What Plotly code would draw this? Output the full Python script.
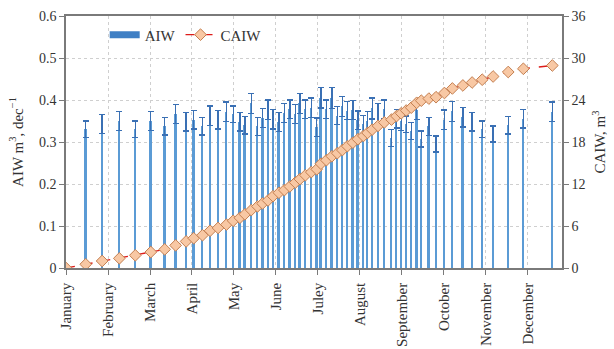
import plotly.graph_objects as go

# Month tick labels (x axis runs in month units, 0 = start of January)
months = ["January", "February", "March", "April", "May", "June",
          "Juley", "August", "September", "October", "November", "December"]
month_pos = list(range(12))

# Irrigation events: position in months from 1 January
event_month = [0.47, 0.86, 1.27, 1.65, 2.02, 2.35, 2.61, 2.86, 3.04, 3.25,
               3.43, 3.62, 3.82, 3.98, 4.14, 4.26, 4.41, 4.56, 4.68, 4.81,
               4.93, 5.07, 5.20, 5.33, 5.46, 5.57, 5.70, 5.84, 5.97, 6.07,
               6.20, 6.33, 6.46, 6.58, 6.70, 6.83, 6.95, 7.08, 7.18, 7.29,
               7.43, 7.58, 7.75, 7.87, 7.98, 8.10, 8.22, 8.35, 8.46, 8.64,
               8.81, 9.01, 9.20, 9.45, 9.67, 9.91, 10.17, 10.53, 10.89, 11.58]

# Applied irrigation water per event (m3 per decade), mean and standard deviation
aiw_mean = [0.330, 0.343, 0.350, 0.330, 0.350, 0.338, 0.367, 0.348, 0.353, 0.338,
            0.363, 0.353, 0.372, 0.366, 0.348, 0.340, 0.392, 0.337, 0.357, 0.377,
            0.354, 0.348, 0.369, 0.378, 0.367, 0.392, 0.378, 0.382, 0.335, 0.405,
            0.378, 0.404, 0.363, 0.385, 0.375, 0.376, 0.352, 0.342, 0.350, 0.380,
            0.369, 0.378, 0.310, 0.355, 0.350, 0.342, 0.326, 0.377, 0.307, 0.337,
            0.295, 0.353, 0.373, 0.359, 0.348, 0.330, 0.319, 0.340, 0.355, 0.372]
aiw_sd = [0.020, 0.022, 0.022, 0.020, 0.022, 0.021, 0.023, 0.022, 0.022, 0.021,
          0.023, 0.022, 0.023, 0.020, 0.022, 0.021, 0.024, 0.021, 0.022, 0.023,
          0.023, 0.023, 0.023, 0.022, 0.023, 0.024, 0.022, 0.023, 0.022, 0.024,
          0.022, 0.025, 0.022, 0.024, 0.022, 0.023, 0.022, 0.021, 0.022, 0.025,
          0.022, 0.022, 0.020, 0.022, 0.022, 0.020, 0.020, 0.023, 0.019, 0.021,
          0.019, 0.023, 0.024, 0.023, 0.022, 0.020, 0.019, 0.021, 0.022, 0.023]

# Cumulative applied irrigation water (m3), starting from zero on 1 January
caiw_month = [0.0] + event_month
caiw = [0.00, 0.53, 1.00, 1.38, 1.81, 2.28, 2.66, 3.23, 3.80, 4.25, 4.68,
        5.32, 5.72, 6.20, 6.74, 7.17, 7.67, 8.27, 8.80, 9.22, 9.65,
        10.26, 10.75, 11.13, 11.65, 12.20, 12.70, 13.25, 13.70, 14.10, 14.90,
        15.40, 15.96, 16.40, 16.85, 17.40, 17.90, 18.40, 18.86, 19.30, 19.77,
        20.30, 20.80, 21.20, 21.70, 22.10, 22.50, 22.90, 23.60, 23.90, 24.20,
        24.40, 25.00, 25.65, 26.08, 26.50, 26.90, 27.36, 28.00, 28.46, 28.93]

FONT = "Liberation Serif"
TXT = "#333333"
BLUE = "#5b9bd5"
BLUE_DARK = "#3a70b4"
GRID = "#cfcfcf"
AXIS = "#7a7a7a"

fig = go.Figure()

fig.add_trace(go.Bar(
    x=event_month, y=aiw_mean, width=0.045,
    marker=dict(color=BLUE, line=dict(width=0)),
    error_y=dict(type="data", array=aiw_sd, visible=True,
                 color=BLUE_DARK, thickness=1.3, width=3),
    name="AIW", showlegend=False,
))

# legend swatch for the bar series (wide blue patch)
fig.add_trace(go.Scatter(
    x=[None], y=[None], mode="lines",
    line=dict(color="#3f7fc4", width=7), name="AIW",
))

fig.add_trace(go.Scatter(
    x=caiw_month, y=caiw, yaxis="y2", mode="lines+markers",
    line=dict(color="#dd1c1a", width=1.4, dash="dash"),
    marker=dict(symbol="diamond", size=9, color="#f8c8a4",
                line=dict(color="#c47f50", width=1)),
    name="CAIW",
))

axis_line = dict(showline=True, linecolor=AXIS, linewidth=1.5)
tick_font = dict(family=FONT, size=14, color=TXT)

fig.update_layout(
    width=614, height=349,
    margin=dict(l=66, r=52, t=16, b=81, autoexpand=False),
    paper_bgcolor="white", plot_bgcolor="white",
    font=dict(family=FONT, size=14, color=TXT),
    bargap=0,
    legend=dict(orientation="h", x=0.078, y=0.925, xanchor="left", yanchor="middle",
                bgcolor="rgba(0,0,0,0)", font=dict(family=FONT, size=15, color=TXT),
                itemwidth=30, tracegroupgap=0),
    xaxis=dict(range=[0, 11.81], tickmode="array", tickvals=month_pos, ticktext=months,
               tickangle=-90, ticks="outside", ticklen=5, tickcolor=AXIS,
               ticklabelstandoff=2, tickfont=dict(family=FONT, size=15, color=TXT),
               showgrid=True, gridcolor=GRID, griddash="3px,3px", gridwidth=1,
               mirror=True, zeroline=False, automargin=False, **axis_line),
    yaxis=dict(range=[0, 0.6], tickmode="array",
               tickvals=[0, 0.1, 0.2, 0.3, 0.4, 0.5, 0.6],
               ticktext=["0", "0.1", "0.2", "0.3", "0.4", "0.5", "0.6"],
               ticks="outside", ticklen=5, tickcolor=AXIS, tickfont=tick_font,
               showgrid=True, gridcolor=GRID, griddash="3px,3px", gridwidth=1,
               mirror=True, zeroline=False, automargin=False,
               title=dict(text="AIW m<sup>3</sup>, dec<sup>−1</sup>", standoff=12,
                          font=dict(family=FONT, size=15, color=TXT)),
               **axis_line),
    yaxis2=dict(range=[0, 36], tickmode="array", tickvals=[0, 6, 12, 18, 24, 30, 36],
                overlaying="y", side="right",
                ticks="outside", ticklen=5, tickcolor=AXIS, tickfont=tick_font,
                showgrid=False, zeroline=False, automargin=False,
                title=dict(text="CAIW, m<sup>3</sup>", standoff=10,
                           font=dict(family=FONT, size=15, color=TXT)),
                **axis_line),
)

fig.write_html("out.html")
